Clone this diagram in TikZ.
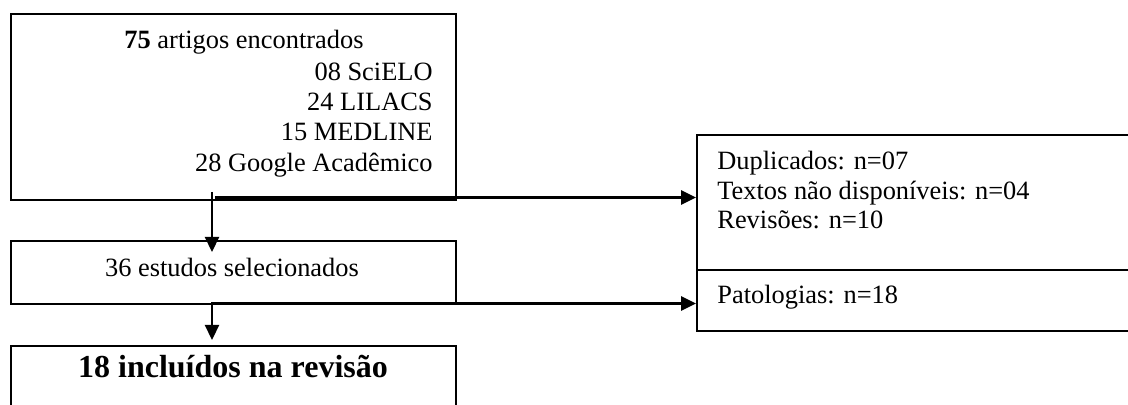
\documentclass[tikz,border=0pt]{standalone}
\usepackage{fontspec}
\setmainfont{Liberation Serif}
\usetikzlibrary{arrows.meta}
\tikzset{
  boxframe/.style={draw=black, line width=1pt, rectangle, inner sep=0pt, anchor=north west},
  txt/.style={inner sep=0pt, font=\fontsize{13.2pt}{16pt}\selectfont},
  bigtxt/.style={inner sep=0pt, font=\fontsize{16pt}{19pt}\selectfont\bfseries},
  flow/.style={line width=1.1pt, -{Triangle[length=7.5pt, width=7pt]}},
  flowline/.style={line width=1.5pt, -{Triangle[length=7.5pt, width=7pt]}}
}
\begin{document}
\begin{tikzpicture}[x=0.5pt, y=-0.5pt]
\useasboundingbox (0,0) rectangle (1128,405);
\begin{scope}
\clip (0,0) rectangle (1128,405);
% boxes
\node[boxframe, minimum width=222.5pt, minimum height=93pt] (b1) at (10,13) {};
\node[boxframe, minimum width=222.5pt, minimum height=31.5pt] (b2) at (10,240) {};
\node[boxframe, minimum width=222.5pt, minimum height=45pt] (b3) at (10,345) {};
\node[boxframe, minimum width=225pt, minimum height=67.5pt] (r1) at (696,134) {};
\node[boxframe, minimum width=225pt, minimum height=30.5pt] (r2) at (696,269) {};
% texts
\node[txt, anchor=base] (t1) at (244,49) {\textbf{75} artigos encontrados};
\node[txt, anchor=base east] (t2) at (433,80.5) {08 SciELO};
\node[txt, anchor=base east] (t3) at (433,111) {24 LILACS};
\node[txt, anchor=base east] (t4) at (433,141) {15 MEDLINE};
\node[txt, anchor=base east] (t5) at (433,172) {28 Google Acadêmico};
\node[txt, anchor=base] (t6) at (232,277) {36 estudos selecionados};
\node[bigtxt, anchor=base] (t7) at (233,377) {18 incluídos na revisão};
\node[txt, anchor=base west] (t8) at (717,170) {Duplicados: n=07};
\node[txt, anchor=base west] (t9) at (717,200) {Textos não disponíveis: n=04};
\node[txt, anchor=base west] (t10) at (717,229) {Revisões: n=10};
\node[txt, anchor=base west] (t11) at (717,304) {Patologias: n=18};
% connector anchors
\coordinate (v1s) at (212,192);
\coordinate (v1e) at (212,252);
\coordinate (h1s) at (215,197.5);
\coordinate (h1e) at (r1.west |- 0,197.5);
\coordinate (v2s) at (212,302);
\coordinate (v2e) at (212,340);
\coordinate (h2s) at (212,303.5);
\coordinate (h2e) at (r2.west |- 0,303.5);
% connectors
\draw[flow] (v1s) -- (v1e);
\draw[flowline] (h1s) -- (h1e);
\draw[flow] (v2s) -- (v2e);
\draw[flowline] (h2s) -- (h2e);
\end{scope}
\end{tikzpicture}
\end{document}
